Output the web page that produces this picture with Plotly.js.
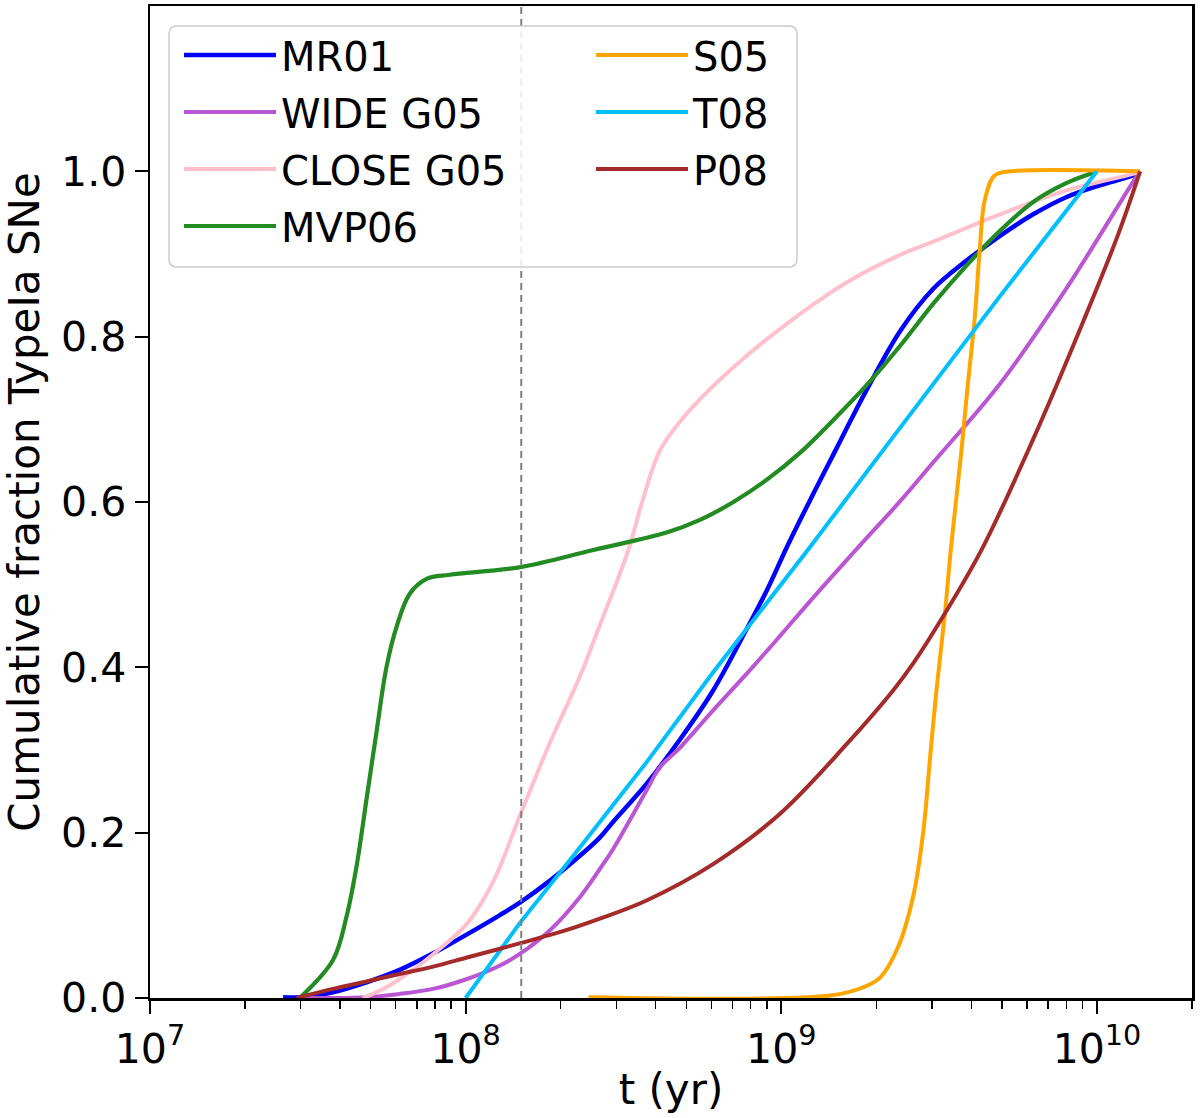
<!DOCTYPE html>
<html>
<head>
<meta charset="utf-8">
<script src="https://cdn.plot.ly/plotly-3.0.1.min.js"></script>
<style>
html,body{margin:0;padding:0;background:#ffffff;}
#chart{width:1200px;height:1118px;}
</style>
</head>
<body>
<div id="chart"></div>
<script>
// ---- data ----
const seriesNames = ["MR01", "WIDE G05", "CLOSE G05", "MVP06", "S05", "T08", "P08"];

const mr01T = [2.64e7, 2.98e7, 3.80e7, 4.85e7, 6.18e7, 7.89e7, 1.01e8, 1.28e8, 1.48e8, 1.85e8, 2.30e8, 2.66e8, 2.93e8, 3.74e8, 4.78e8, 6.08e8, 7.76e8, 8.97e8, 1.04e9, 1.15e9, 1.29e9, 1.46e9, 1.65e9, 1.86e9, 2.38e9, 3.03e9, 3.86e9, 4.93e9, 6.28e9, 8.02e9, 1.02e10, 1.30e10, 1.37e10];
const mr01F = [0.001, 0.001, 0.007, 0.019, 0.034, 0.054, 0.077, 0.100, 0.115, 0.142, 0.172, 0.194, 0.213, 0.259, 0.313, 0.372, 0.446, 0.492, 0.545, 0.579, 0.617, 0.657, 0.697, 0.735, 0.807, 0.858, 0.892, 0.922, 0.948, 0.969, 0.983, 0.995, 1.0];

const wideT = [3.02e7, 4.85e7, 6.18e7, 7.89e7, 1.01e8, 1.28e8, 1.48e8, 1.85e8, 2.30e8, 2.66e8, 2.93e8, 3.74e8, 4.12e8, 4.78e8, 6.08e8, 7.76e8, 9.91e8, 1.26e9, 1.76e9, 2.38e9, 3.03e9, 4.93e9, 8.02e9, 1.30e10, 1.37e10];
const wideF = [0.0, 0.001, 0.005, 0.011, 0.023, 0.039, 0.053, 0.082, 0.122, 0.156, 0.180, 0.251, 0.279, 0.303, 0.348, 0.392, 0.438, 0.484, 0.546, 0.601, 0.648, 0.743, 0.859, 0.987, 1.0];

const closeT = [4.72e7, 5.61e7, 6.98e7, 7.89e7, 1.01e8, 1.22e8, 1.48e8, 1.85e8, 2.30e8, 2.66e8, 3.27e8, 3.65e8, 4.12e8, 4.89e8, 7.05e8, 1.15e9, 1.65e9, 2.38e9, 3.03e9, 4.93e9, 8.02e9, 1.30e10, 1.37e10];
const closeF = [0.0, 0.013, 0.037, 0.053, 0.090, 0.140, 0.219, 0.309, 0.389, 0.451, 0.541, 0.604, 0.662, 0.702, 0.763, 0.828, 0.868, 0.899, 0.915, 0.948, 0.977, 0.997, 1.0];

const mvp06T = [2.98e7, 3.80e7, 4.19e7, 4.51e7, 4.85e7, 5.21e7, 5.61e7, 6.04e7, 6.65e7, 7.52e7, 8.91e7, 1.48e8, 2.54e8, 4.33e8, 5.50e8, 7.05e8, 9.00e8, 1.15e9, 1.46e9, 1.86e9, 2.38e9, 3.03e9, 3.86e9, 4.93e9, 6.28e9, 8.02e9, 9.51e9, 1.0e10];
const mvp06F = [0.0, 0.046, 0.098, 0.159, 0.240, 0.320, 0.400, 0.449, 0.489, 0.507, 0.512, 0.521, 0.542, 0.563, 0.578, 0.600, 0.627, 0.660, 0.699, 0.741, 0.789, 0.840, 0.886, 0.928, 0.963, 0.986, 0.997, 1.0];

const s05T = [2.45e8, 1.43e9, 1.82e9, 2.06e9, 2.34e9, 2.62e9, 2.82e9, 2.96e9, 3.10e9, 3.30e9, 3.44e9, 3.72e9, 3.90e9, 4.10e9, 4.25e9, 4.41e9, 4.74e9, 5.35e9, 1.37e10];
const s05F = [0.001, 0.003, 0.013, 0.025, 0.061, 0.124, 0.203, 0.291, 0.372, 0.466, 0.541, 0.662, 0.743, 0.823, 0.904, 0.965, 0.995, 1.0, 1.0];

const t08T = [1.0e8, 1.48e8, 2.30e8, 3.74e8, 6.08e8, 1.23e9, 2.38e9, 4.93e9, 1.0e10];
const t08F = [0.0, 0.090, 0.182, 0.285, 0.394, 0.545, 0.690, 0.849, 1.0];

const p08T = [2.91e7, 3.80e7, 4.85e7, 6.18e7, 7.89e7, 1.01e8, 1.48e8, 2.08e8, 2.66e8, 3.74e8, 6.08e8, 9.91e8, 1.61e9, 2.26e9, 2.62e9, 3.26e9, 4.32e9, 6.28e9, 9.06e9, 1.16e10, 1.37e10];
const p08F = [0.0, 0.011, 0.020, 0.029, 0.038, 0.049, 0.066, 0.082, 0.096, 0.118, 0.162, 0.223, 0.307, 0.372, 0.405, 0.462, 0.543, 0.676, 0.819, 0.921, 1.0];

const markerT = [1.5e8];           // dashed vertical reference line
const xTickVals = [1e7, 1e8, 1e9, 1e10];
const xTickText = ["10<sup>7</sup>", "10<sup>8</sup>", "10<sup>9</sup>", "10<sup>10</sup>"];
const yTickVals = [0.0, 0.2, 0.4, 0.6, 0.8, 1.0];
const yTickText = ["0.0", "0.2", "0.4", "0.6", "0.8", "1.0"];

// ---- styling ----
const colors = ["#0000ff", "#ba55d3", "#ffc0cb", "#228b22", "#ffa500", "#00bfff", "#a52a2a"];
const widths = [4.5, 4, 4, 4.2, 4, 4, 4];
const FONT = "DejaVu Sans, Verdana, sans-serif";

const xs = [mr01T, wideT, closeT, mvp06T, s05T, t08T, p08T];
const ys = [mr01F, wideF, closeF, mvp06F, s05F, t08F, p08F];
const legendOf = ["legend", "legend", "legend", "legend", "legend2", "legend2", "legend2"];

const traces = seriesNames.map((name, i) => ({
  type: "scatter",
  mode: "lines",
  name: name,
  x: xs[i],
  y: ys[i],
  legend: legendOf[i],
  legendgroup: "g" + i,
  line: {color: colors[i], width: widths[i], shape: (name === "T08") ? "linear" : "spline", smoothing: 1.0},
  hoverinfo: "skip"
}));

traces.push({
  type: "scatter",
  mode: "lines",
  x: [markerT[0], markerT[0]],
  y: [0, 1.2],
  showlegend: false,
  line: {color: "#808080", width: 2, dash: "7px,5px"},
  hoverinfo: "skip"
});

// minor tick positions (2..9 within each decade)
const minorVals = [];
[1e7, 1e8, 1e9, 1e10].forEach(d => { for (let k = 2; k <= 9; k++) { if (k * d <= 2e10) minorVals.push(k * d); } });

// legend frame (rounded rectangle in paper coordinates)
const plotW = 1200 - 150 - 8, plotH = 1118 - 6 - 120;
function px2x(p) { return (p - 150) / plotW; }
function py2y(p) { return (998 - p) / plotH; }
const bx0 = px2x(169), bx1 = px2x(797), by0 = py2y(267), by1 = py2y(26);
const rx = 8 / plotW, ry = 8 / plotH;
const framePath = `M ${bx0 + rx},${by0} L ${bx1 - rx},${by0} Q ${bx1},${by0} ${bx1},${by0 + ry} L ${bx1},${by1 - ry} Q ${bx1},${by1} ${bx1 - rx},${by1} L ${bx0 + rx},${by1} Q ${bx0},${by1} ${bx0},${by1 - ry} L ${bx0},${by0 + ry} Q ${bx0},${by0} ${bx0 + rx},${by0} Z`;

const axisCommon = {
  showline: true, linecolor: "black", linewidth: 2.5, mirror: true,
  ticks: "outside", ticklen: 13, tickwidth: 2, tickcolor: "black",
  showgrid: false, zeroline: false,
  tickfont: {family: FONT, size: 41, color: "black"}
};

const legendCommon = {
  xanchor: "left", yanchor: "top",
  bgcolor: "rgba(0,0,0,0)", borderwidth: 0,
  font: {family: FONT, size: 40, color: "black"},
  tracegroupgap: 2, itemwidth: 92,
  itemclick: false, itemdoubleclick: false
};

const layout = {
  width: 1200, height: 1118,
  margin: {l: 150, r: 8, t: 6, b: 120},
  paper_bgcolor: "#ffffff", plot_bgcolor: "#ffffff",
  font: {family: FONT, color: "black"},
  showlegend: true,
  xaxis: Object.assign({}, axisCommon, {
    type: "log",
    range: [7, Math.log10(2e10)],
    tickmode: "array", tickvals: xTickVals, ticktext: xTickText,
    minor: {tickmode: "array", tickvals: minorVals, ticks: "outside", ticklen: 8, tickwidth: 1.5, tickcolor: "black", showgrid: false},
    title: {text: "t (yr)", font: {family: FONT, size: 42, color: "black"}, standoff: 3},
    automargin: false
  }),
  yaxis: Object.assign({}, axisCommon, {
    range: [0, 1.2],
    tickmode: "array", tickvals: yTickVals, ticktext: yTickText,
    ticklabelstandoff: 0,
    title: {text: "Cumulative fraction TypeIa SNe", font: {family: FONT, size: 42, color: "black"}, standoff: 12},
    automargin: false
  }),
  legend: Object.assign({}, legendCommon, {x: px2x(179), y: py2y(22.5)}),
  legend2: Object.assign({}, legendCommon, {x: px2x(591), y: py2y(22.5)}),
  shapes: [{
    type: "path", xref: "paper", yref: "paper", layer: "above",
    path: framePath,
    fillcolor: "rgba(255,255,255,0.85)",
    line: {color: "#cccccc", width: 1.5}
  }]
};

Plotly.newPlot("chart", traces, layout, {staticPlot: true, displayModeBar: false});
</script>
</body>
</html>
